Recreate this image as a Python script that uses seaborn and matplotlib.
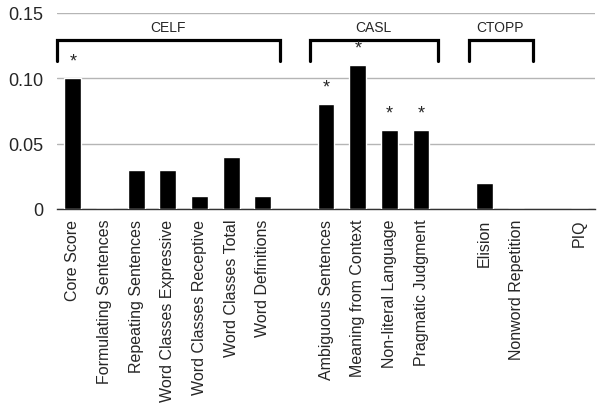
import numpy as np
import pandas as pd
import seaborn as sns
import matplotlib.pyplot as plt

# categories, with blank slots as gaps between the test batteries
labels = ["Core Score", "Formulating Sentences", "Repeating Sentences",
          "Word Classes Expressive", "Word Classes Receptive",
          "Word Classes Total", "Word Definitions", " ",
          "Ambiguous Sentences", "Meaning from Context",
          "Non-literal Language", "Pragmatic Judgment", "  ",
          "Elision", "Nonword Repetition", "   ", "PIQ"]
values = [0.10, 0.0, 0.03, 0.03, 0.01, 0.04, 0.01, np.nan,
          0.08, 0.11, 0.06, 0.06, np.nan,
          0.02, 0.0, np.nan, 0.0]
significant = ["Core Score", "Ambiguous Sentences", "Meaning from Context",
               "Non-literal Language", "Pragmatic Judgment"]

# test batteries: name, first and last member
group_names = ["CELF", "CASL", "CTOPP"]
group_first = ["Core Score", "Ambiguous Sentences", "Elision"]
group_last = ["Word Definitions", "Pragmatic Judgment", "Nonword Repetition"]

sns.set_style("white")
plt.rcParams["font.family"] = ["Liberation Sans", "DejaVu Sans"]

df = pd.DataFrame({"measure": labels, "value": values}).dropna()

fig = plt.figure(figsize=(6, 4.06), dpi=100)
ax = fig.add_axes([0.095, 0.483, 0.897, 0.483])

sns.barplot(data=df, x="measure", y="value", order=labels,
            color="black", width=0.53, saturation=1, ax=ax, zorder=3)

ax.set_ylim(0, 0.15)
ax.set_xlim(-0.5, len(labels) - 0.5)
ax.set_yticks([0, 0.05, 0.10, 0.15])
ax.set_yticklabels(["0", "0.05", "0.10", "0.15"], fontsize=13)
ax.yaxis.grid(True, color="#b5b5b5", lw=1, zorder=0)
ax.set_axisbelow(True)
ax.tick_params(axis="both", length=0)
ax.tick_params(axis="y", pad=10)
ax.tick_params(axis="x", pad=7)
plt.setp(ax.get_xticklabels(), rotation=90, fontsize=11.5)
ax.set_xlabel("")
ax.set_ylabel("")
for s in ["left", "right", "top"]:
    ax.spines[s].set_visible(False)
ax.spines["bottom"].set_color("#333333")
ax.spines["bottom"].set_linewidth(1)

#
# significance stars
#
for name in significant:
    i = labels.index(name)
    ax.text(i, values[i] + 0.013, "*", ha="center", va="center", fontsize=13)

#
# group brackets
#
for name, first, last in zip(group_names, group_first, group_last):
    x0 = labels.index(first) - 0.5
    x1 = labels.index(last) + 0.55
    ax.plot([x0, x0, x1, x1], [0.113, 0.129, 0.129, 0.113],
            color="black", lw=2.3, solid_joinstyle="miter", clip_on=False)
    ax.text((labels.index(first) + labels.index(last)) / 2, 0.139, name,
            ha="center", va="center", fontsize=10)

fig.savefig("out.png", dpi=100)
